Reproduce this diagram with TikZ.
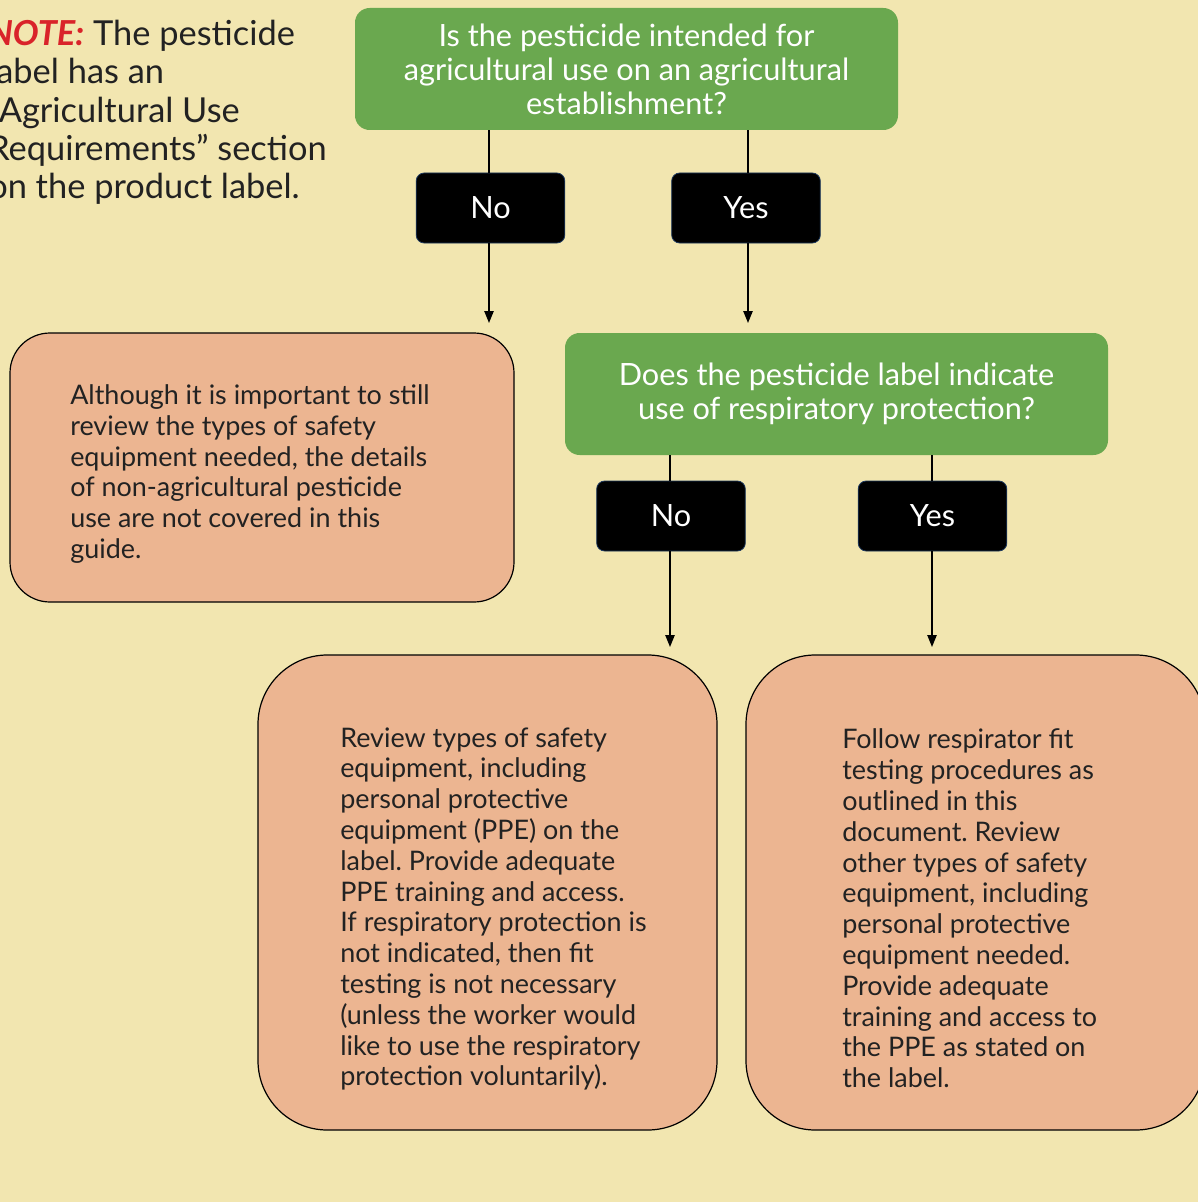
\documentclass[tikz,border=0pt]{standalone}
\usepackage{fontspec}
\setmainfont{Lato}
\usetikzlibrary{arrows.meta}
\definecolor{bgyellow}{HTML}{F2E6B0}
\definecolor{boxorange}{HTML}{ECB591}
\definecolor{boxgreen}{HTML}{6AA84F}
\definecolor{notered}{HTML}{D9232A}
\definecolor{txt}{HTML}{222222}
\definecolor{edgeblue}{HTML}{1F3A60}
\tikzset{
  question/.style={draw=none, fill=boxgreen, rounded corners=11pt, text=white, align=center,
    font=\fontsize{23}{25.5}\selectfont, inner sep=0pt},
  answer/.style={draw=edgeblue, line width=0.6pt, fill=black, rounded corners=6pt, text=white,
    minimum width=111.5pt, minimum height=52.5pt, inner sep=0pt, font=\fontsize{23}{26}\selectfont},
  result/.style={draw=black, line width=0.9pt, fill=boxorange, inner sep=0pt},
  bodytext/.style={align=left, text=txt, inner sep=0pt, anchor=west, font=\fontsize{20.2}{23.1}\selectfont},
  link/.style={draw=black, line width=1.1pt},
  arrowlink/.style={link, -{Triangle[length=9pt,width=7pt]}}
}
\frenchspacing
\begin{document}
\begin{tikzpicture}[x=0.75pt,y=-0.75pt]
\useasboundingbox (0,0) rectangle (1198,1202);
\clip (0,0) rectangle (1198,1202);
\fill[bgyellow] (0,0) rectangle (1198,1202);

% note
\node[align=left, text=txt, inner sep=0pt, anchor=west, font=\fontsize{25.8}{28.7}\selectfont] (note) at (-12,112.5)
  {{\color{notered}\bfseries\itshape NOTE:} The pesticide\\label has an\\“Agricultural Use\\Requirements” section\\on the product label.};

% questions
\node[question, minimum width=407.25pt, minimum height=91.5pt] (q1) at (626.5,69)
  {Is the pesticide intended for\\agricultural use on an agricultural\\establishment?};
\node[question, minimum width=407.25pt, minimum height=91.5pt] (q2) at (836.5,394)
  {Does the pesticide label indicate\\use of respiratory protection?};

% answers
\node[answer] (no1) at (490.5,208) {No};
\node[answer] (yes1) at (746,208) {Yes};
\node[answer] (no2) at (671,516) {No};
\node[answer] (yes2) at (932.5,516) {Yes};

% results
\node[result, rounded corners=30pt, minimum width=378pt, minimum height=201.75pt] (r1) at (262,467.5) {};
\node[result, rounded corners=52pt, minimum width=344.25pt, minimum height=356.25pt] (r2) at (487.5,892.5) {};
\node[result, rounded corners=52pt, minimum width=344.25pt, minimum height=356.25pt] (r3) at (975.5,892.5) {};

\node[bodytext] (t1) at (70,474) {Although it is important to still\\review the types of safety\\equipment needed, the details\\of non-agricultural pesticide\\use are not covered in this\\guide.};
\node[bodytext] (t2) at (340,909) {Review types of safety\\equipment, including\\personal protective\\equipment (PPE) on the\\label. Provide adequate\\PPE training and access.\\If respiratory protection is\\not indicated, then fit\\testing is not necessary\\(unless the worker would\\like to use the respiratory\\protection voluntarily).};
\node[bodytext] (t3) at (842,908.5) {Follow respirator fit\\testing procedures as\\outlined in this\\document. Review\\other types of safety\\equipment, including\\personal protective\\equipment needed.\\Provide adequate\\training and access to\\the PPE as stated on\\the label.};

% arrow ends
\coordinate (e1) at (489,323);
\coordinate (e2) at (748,323);
\coordinate (e3) at (670,647);
\coordinate (e4) at (932,647);

% connectors
\draw[link] (q1.south -| e1) -- (no1.north -| e1);
\draw[arrowlink] (no1.south -| e1) -- (e1);
\draw[link] (q1.south -| e2) -- (yes1.north -| e2);
\draw[arrowlink] (yes1.south -| e2) -- (e2);
\draw[link] (q2.south -| e3) -- (no2.north -| e3);
\draw[arrowlink] (no2.south -| e3) -- (e3);
\draw[link] (q2.south -| e4) -- (yes2.north -| e4);
\draw[arrowlink] (yes2.south -| e4) -- (e4);
\end{tikzpicture}
\end{document}
